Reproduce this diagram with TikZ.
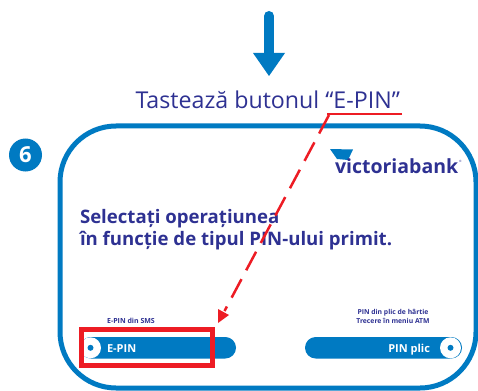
\documentclass[tikz,border=0pt]{standalone}
\usepackage{fontspec}
\setmainfont{Open Sans}
\usetikzlibrary{arrows.meta}
\definecolor{vbblue}{HTML}{007AC2}
\definecolor{vbnavy}{HTML}{2E3192}
\definecolor{vbred}{HTML}{ED1C24}
\tikzset{
  px/.style={x=1pt,y=-1pt},
  txt/.style={inner sep=0pt,outer sep=0pt,text=vbnavy,anchor=base},
  pill/.style={fill=vbblue,rounded corners=10.7pt},
  radio/.style={circle,fill=white,minimum size=21pt,inner sep=0pt},
  radiodot/.style={circle,fill=vbblue,minimum size=6pt,inner sep=0pt},
  redline/.style={draw=vbred,line width=2pt},
}
\begin{document}
\begin{tikzpicture}[px]
\useasboundingbox (0,0) rectangle (478,390);
% big arrow
\draw[vbblue,line width=10pt,line cap=round] (269,16) -- (269,56);
\fill[vbblue] (253,53) -- (285,53) -- (269,76) -- cycle;
% title
\node[txt,font=\fontsize{23.2}{26}\selectfont,anchor=base west] (title) at (135.5,109) {Tastează butonul “E-PIN”};
% panel
\begin{scope}
\clip (0,0) rectangle (478,390);
\draw[vbblue,line width=5pt,rounded corners=56pt] (60,126) rectangle (476,388);
\end{scope}
% step number
\node[circle,fill=vbblue,minimum size=33pt,inner sep=0pt,text=white,font=\fontsize{22}{24}\selectfont\bfseries] (six) at (25.5,155) {6};
% logo
\fill[vbblue] (330,149) -- (353,149.5) -- (348,160) -- (337,159) -- cycle;
\node[txt,font=\fontsize{19.5}{22}\selectfont\bfseries,anchor=base west] (logo) at (335,173.5) {victoriabank};
\node[txt,font=\fontsize{3}{4}\selectfont,anchor=base west] (reg) at (459,162) {®};
% main text
\node[txt,font=\fontsize{18.6}{20}\selectfont\bfseries,anchor=base west] (l1) at (80,223) {Selectați operațiunea};
\node[txt,font=\fontsize{18.6}{20}\selectfont\bfseries,anchor=base west] (l2) at (80,245) {în funcție de tipul PIN-ului primit.};
% small labels
\node[txt,font=\fontsize{7}{8}\selectfont\bfseries] (s1) at (131,323) {E-PIN din SMS};
\node[txt,font=\fontsize{6.8}{8}\selectfont\bfseries] (s2) at (393,314) {PIN din plic de hârtie};
\node[txt,font=\fontsize{6.8}{8}\selectfont\bfseries] (s3) at (393,323) {Trecere în meniu ATM};
% buttons
\fill[pill] (80,337) rectangle (236,358.5);
\fill[pill] (305,337) rectangle (462,358.5);
\node[radio] (r1) at (90.5,347.8) {};
\node[radiodot] at (r1) {};
\node[radio] (r2) at (450.5,347.8) {};
\node[radiodot] at (r2) {};
\node[txt,text=white,font=\fontsize{11}{13}\selectfont\bfseries,anchor=base west] (b1) at (107,352) {E-PIN};
\node[txt,text=white,font=\fontsize{11}{13}\selectfont\bfseries,anchor=base east] (b2) at (430,352) {PIN plic};
% red highlight
\node[draw=vbred,line width=5pt,inner sep=0pt,minimum width=131pt,minimum height=36pt,anchor=north west] (hl) at (79,327) {};
% red pointer
\coordinate (ulL) at (327,114.5);
\coordinate (ulR) at (402,114.5);
\coordinate (tip) at (218,323);
\coordinate (headbase) at (224.5,311);
\draw[redline] (ulR) -- (ulL);
\draw[redline,dash pattern=on 21pt off 10pt,line width=2.5pt] (329,115) -- (headbase);
\fill[vbred] (218,309) -- (229,315) -- (tip) -- cycle;
\end{tikzpicture}
\end{document}
